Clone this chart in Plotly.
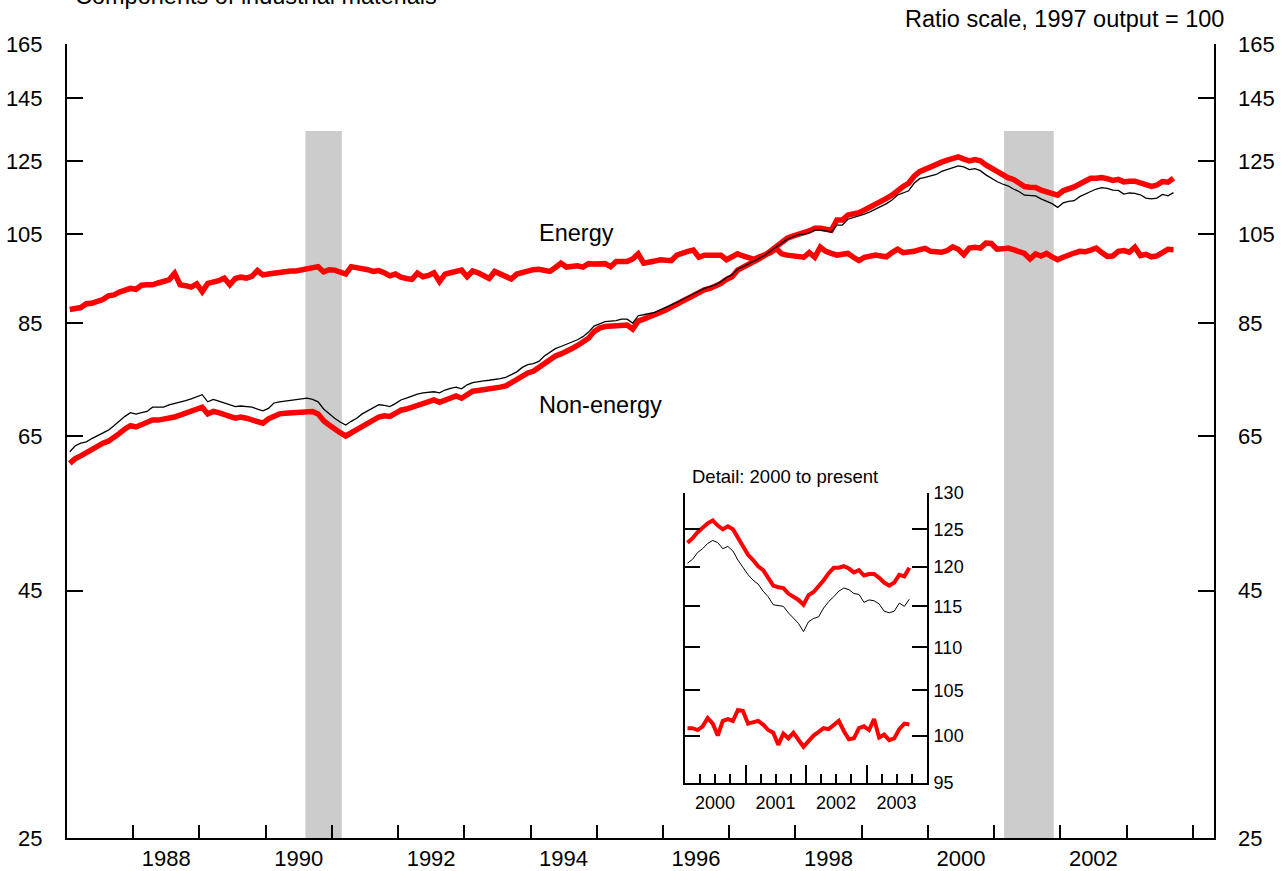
import math
import pandas as pd
import plotly.graph_objects as go

# ---------------- data (monthly, Jan 1987 - Sep 2003; 1997 output = 100) ----------------
start = "1987-01"
energy = [
    87.8, 88.0, 88.2, 89.0, 89.1, 89.5, 89.9, 90.7, 90.9, 91.5, 92.0, 92.3,
    92.1, 93.0, 93.1, 93.1, 93.5, 93.8, 94.2, 95.7, 93.1, 92.9, 92.6, 93.3,
    91.6, 93.4, 93.6, 94.0, 94.6, 93.1, 94.5, 94.8, 94.6, 95.0, 96.3, 95.3,
    95.5, 95.7, 96.0, 96.0, 96.2, 96.2, 96.4, 96.8, 97.0, 97.2, 96.0, 96.5,
    96.4, 96.0, 95.5, 97.2, 97.0, 96.9, 96.5, 96.1, 96.3, 95.8, 95.1, 95.5,
    94.8, 94.5, 94.3, 95.7, 94.9, 95.2, 95.8, 93.8, 95.5, 95.8, 96.1, 96.4,
    94.9, 96.2, 95.8, 95.0, 94.5, 96.1, 95.5, 95.1, 94.4, 95.5, 95.9, 96.4,
    96.5, 96.6, 96.4, 96.1, 97.0, 98.0, 97.1, 97.2, 97.4, 97.1, 97.9, 97.8,
    97.9, 97.9, 97.2, 98.4, 98.4, 98.4, 99.0, 100.2, 98.0, 98.4, 98.5, 98.8,
    98.8, 98.6, 99.9, 100.5, 100.8, 101.1, 99.4, 99.9, 99.9, 99.7, 99.9, 98.8,
    99.5, 100.2, 99.7, 99.4, 98.9, 99.5, 100.0, 100.5, 101.5, 100.2, 99.9, 99.7,
    99.5, 99.4, 100.5, 99.4, 101.8, 100.8, 100.3, 99.9, 100.1, 100.3, 99.4, 98.6,
    99.4, 99.6, 99.9, 99.7, 99.5, 100.5, 101.3, 100.5, 100.6, 100.8, 101.2, 101.5,
    100.8, 100.8, 100.6, 101.0, 101.9, 101.3, 100.0, 101.6, 101.8, 101.6, 102.8, 102.7,
    101.3, 101.4, 101.6, 101.2, 100.6, 100.3, 99.0, 100.2, 99.7, 100.3, 99.5, 98.8,
    99.4, 100.0, 100.4, 100.8, 100.7, 101.1, 101.6, 100.5, 99.6, 99.7, 100.8, 101.0,
    100.6, 101.8, 99.8, 100.1, 99.5, 99.7, 100.7, 101.3, 101.2,
]
non_energy = [
    60.9, 61.6, 62.0, 62.5, 62.9, 63.4, 63.9, 64.2, 64.7, 65.4, 66.1, 66.6,
    66.4, 66.7, 67.0, 67.5, 67.5, 67.6, 67.8, 68.0, 68.3, 68.6, 68.9, 69.3,
    69.6, 68.5, 68.9, 68.7, 68.5, 68.1, 67.8, 68.0, 67.8, 67.6, 67.3, 67.0,
    67.7, 68.2, 68.5, 68.6, 68.7, 68.7, 68.8, 69.0, 68.9, 68.5, 67.4, 66.7,
    66.0, 65.5, 65.0, 65.5, 65.9, 66.4, 67.0, 67.5, 68.0, 68.2, 68.1, 68.6,
    69.1, 69.3, 69.6, 69.9, 70.3, 70.6, 70.8, 70.4, 70.8, 71.2, 71.5, 71.1,
    71.8, 72.3, 72.4, 72.5, 72.7, 72.8, 73.0, 73.2, 73.8, 74.4, 75.0, 75.5,
    75.8, 76.5, 77.4, 78.0, 78.6, 79.0, 79.4, 80.0, 80.6, 81.2, 82.0, 83.3,
    84.0, 84.3, 84.4, 84.4, 84.6, 84.6, 83.8, 85.4, 85.8, 86.2, 86.6, 87.2,
    87.7, 88.3, 88.9, 89.5, 90.1, 90.8, 91.4, 92.0, 92.3, 92.7, 93.4, 94.3,
    94.9, 96.4, 97.0, 97.6, 98.3, 99.1, 99.9, 100.9, 101.8, 103.0, 104.0, 104.5,
    105.1, 105.4, 105.8, 106.5, 106.5, 106.3, 106.0, 108.6, 108.6, 109.9, 110.2, 110.5,
    111.2, 111.9, 112.6, 113.3, 114.3, 115.2, 116.6, 117.6, 118.5, 120.5, 121.8, 122.6,
    123.2, 123.8, 124.6, 125.2, 125.8, 126.2, 125.5, 125.0, 125.4, 125.0, 123.8, 122.8,
    121.6, 120.9, 120.1, 119.6, 118.7, 117.6, 117.4, 117.3, 116.6, 116.2, 115.8, 115.2,
    116.4, 116.8, 117.5, 118.3, 119.2, 119.9, 119.9, 120.1, 119.8, 119.3, 119.6, 118.9,
    119.1, 119.1, 118.6, 118.0, 117.6, 118.0, 119.0, 118.8, 119.9,
]
non_energy_black = [
    62.6, 63.5, 63.9, 64.1, 64.6, 65.0, 65.4, 65.9, 66.6, 67.4, 68.1, 68.7,
    68.45, 68.7, 68.9, 69.6, 69.6, 69.6, 70.0, 70.2, 70.4, 70.7, 71.0, 71.4,
    71.7, 70.5, 70.9, 70.6, 70.3, 70.1, 69.7, 69.8, 69.7, 69.6, 69.3, 69.0,
    69.4, 70.3, 70.5, 70.6, 70.8, 70.8, 70.9, 71.1, 70.9, 70.5, 69.3, 68.5,
    67.8, 67.2, 66.7, 67.3, 67.8, 68.5, 69.0, 69.5, 70.0, 69.9, 69.7, 70.2,
    70.8, 71.1, 71.5, 71.8, 72.0, 72.1, 72.2, 72.0, 72.5, 72.8, 73.0, 72.7,
    73.4, 73.8, 74.0, 74.1, 74.2, 74.3, 74.5, 74.7, 75.2, 75.7, 76.5, 77.0,
    77.2, 77.6, 78.6, 79.3, 80.0, 80.4, 80.8, 81.2, 81.7, 82.3, 83.2, 84.4,
    84.9, 85.3, 85.4, 85.5, 85.8, 85.8, 85.0, 86.5, 86.7, 86.9, 87.2, 87.7,
    88.2, 88.8, 89.3, 89.9, 90.5, 91.1, 91.7, 92.3, 92.7, 93.1, 93.8, 94.7,
    95.3, 96.6, 97.2, 97.8, 98.5, 99.2, 99.9, 100.9, 101.8, 102.8, 103.7, 104.3,
    104.9, 105.0, 105.3, 106.0, 106.0, 105.8, 105.5, 107.3, 107.3, 108.8, 109.2, 109.7,
    110.1, 110.7, 111.4, 112.1, 112.9, 113.9, 115.25, 115.8, 116.4, 118.5, 119.8, 120.2,
    120.5, 121.0, 121.9, 122.4, 123.1, 123.5, 123.2, 122.4, 122.7, 122.1, 120.9, 119.9,
    119.0, 118.3, 117.8, 116.9, 116.2, 115.2, 115.1, 115.0, 114.2, 113.5, 112.9, 111.9,
    113.1, 113.5, 113.7, 114.8, 115.6, 116.2, 116.9, 117.3, 117.1, 116.6, 116.5, 115.5,
    115.8, 115.7, 115.3, 114.4, 114.2, 114.4, 115.4, 115.0, 115.9,
]
recessions = [(1990.6, 1991.15), (2001.15, 2001.9)]
main_ticks = [25, 45, 65, 85, 105, 125, 145, 165]
inset_ticks = [95, 100, 105, 110, 115, 120, 125, 130]
main_years = list(range(1988, 2005))
inset_years = [2000, 2001, 2002, 2003, 2004]
inset_start = 2000

# ---------------- build ----------------
dates = pd.date_range(start, periods=len(energy), freq="MS")
xdec = [d.year + (d.month - 0.5) / 12 for d in dates]
ins = [i for i, x in enumerate(xdec) if x >= inset_start]
xi = [xdec[i] for i in ins]

RED = "#ff0000"
FONT = "Liberation Sans, Arial, sans-serif"

fig = go.Figure()
fig.add_trace(go.Scatter(x=xdec, y=energy, mode="lines", line=dict(color=RED, width=5.5), hoverinfo="skip"))
fig.add_trace(go.Scatter(x=xdec, y=non_energy, mode="lines", line=dict(color=RED, width=5.5), hoverinfo="skip"))
fig.add_trace(go.Scatter(x=xdec, y=non_energy_black, mode="lines", line=dict(color="black", width=1.3), hoverinfo="skip"))
fig.add_trace(go.Scatter(x=[], y=[], yaxis="y2", hoverinfo="skip"))
for s, w, c in ((energy, 4, RED), (non_energy, 4, RED), (non_energy_black, 1, "black")):
    fig.add_trace(go.Scatter(x=xi, y=[s[i] for i in ins], mode="lines", xaxis="x3", yaxis="y3",
                             line=dict(color=c, width=w), hoverinfo="skip"))

for a, b in recessions:
    fig.add_shape(type="rect", xref="x", yref="paper", x0=a, x1=b, y0=0, y1=0.8904,
                  fillcolor="#cccccc", line=dict(width=0), layer="below")

axline = dict(showline=True, linecolor="black", linewidth=2, showgrid=False, zeroline=False,
              tickcolor="black", tickwidth=2, automargin=False)
lo, hi = math.log10(main_ticks[0]), math.log10(main_ticks[-1])
fig.update_layout(
    width=1281, height=871, margin=dict(l=67, r=67, t=44, b=33, autoexpand=False),
    paper_bgcolor="white", plot_bgcolor="white", showlegend=False,
    font=dict(family=FONT, color="black", size=22),
    xaxis=dict(domain=[0, 1], range=[1987, 2004.32], tickvals=main_years,
               ticktext=[str(y) if y % 2 == 0 and y < 2004 else "" for y in main_years],
               ticks="inside", ticklen=13, ticklabelshift=33, ticklabelstandoff=0,
               tickfont=dict(size=22), anchor="y", **axline),
    yaxis=dict(type="log", range=[lo, hi], tickvals=main_ticks, ticktext=[str(t) for t in main_ticks],
               ticks="inside", ticklen=16, mirror="ticks", ticklabelstandoff=18,
               tickfont=dict(size=22), anchor="x", **axline),
    yaxis2=dict(type="log", range=[lo, hi], tickvals=main_ticks, ticktext=[str(t) for t in main_ticks],
                overlaying="y", side="right", anchor="x", ticks="", showline=False, showgrid=False,
                zeroline=False, ticklabelstandoff=23, tickfont=dict(size=22), automargin=False),
    xaxis3=dict(domain=[0.5388, 0.7498], anchor="y3", range=[2000, 2004], tickvals=inset_years,
                ticktext=[str(y) if y < 2004 else "" for y in inset_years],
                ticks="inside", ticklen=18, ticklabelshift=30, ticklabelstandoff=2,
                minor=dict(dtick=0.25, tick0=2000, ticks="inside", ticklen=9, tickwidth=2, tickcolor="black"),
                tickfont=dict(size=18), **axline),
    yaxis3=dict(domain=[0.0693, 0.4345], anchor="x3", type="log",
                range=[math.log10(inset_ticks[0]), math.log10(inset_ticks[-1])],
                tickvals=inset_ticks, ticktext=[str(t) for t in inset_ticks], side="right",
                mirror="ticks", ticks="inside", ticklen=15, ticklabelstandoff=1,
                tickfont=dict(size=18), **axline),
)

ann = [
    ("Components of industrial materials", 0.0052, 1.06, "left", 23.5),
    ("Ratio scale, 1997 output = 100", 1.0105, 1.031, "right", 23.5),
    ("Energy", 0.4098, 0.7620, "left", 23.5),
    ("Non-energy", 0.4098, 0.5453, "left", 23.5),
    ("Detail: 2000 to present", 0.5432, 0.4547, "left", 18.5),
]
for t, x, y, xa, sz in ann:
    fig.add_annotation(text=t, x=x, y=y, xref="paper", yref="paper", xanchor=xa, yanchor="middle",
                       showarrow=False, font=dict(size=sz, family=FONT, color="black"))

fig.write_html("out.html", config={"displayModeBar": False},
               post_script="document.body.style.margin='0';")
